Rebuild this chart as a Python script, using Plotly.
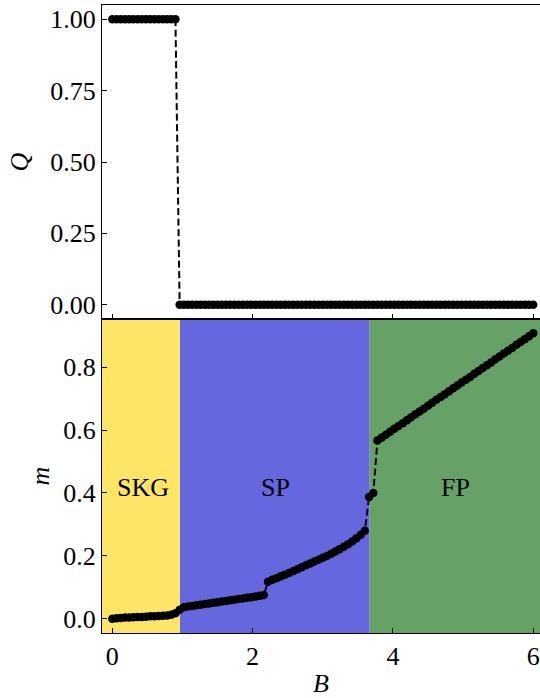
import plotly.graph_objects as go
from plotly.subplots import make_subplots

B = [0.00, 0.06, 0.12, 0.18, 0.24, 0.30, 0.36, 0.42, 0.48, 0.54,
     0.60, 0.66, 0.72, 0.78, 0.84, 0.90, 0.96, 1.02, 1.08, 1.14,
     1.20, 1.26, 1.32, 1.38, 1.44, 1.50, 1.56, 1.62, 1.68, 1.74,
     1.80, 1.86, 1.92, 1.98, 2.04, 2.10, 2.16, 2.22, 2.28, 2.34,
     2.40, 2.46, 2.52, 2.58, 2.64, 2.70, 2.76, 2.82, 2.88, 2.94,
     3.00, 3.06, 3.12, 3.18, 3.24, 3.30, 3.36, 3.42, 3.48, 3.54,
     3.60, 3.66, 3.72, 3.78, 3.84, 3.90, 3.96, 4.02, 4.08, 4.14,
     4.20, 4.26, 4.32, 4.38, 4.44, 4.50, 4.56, 4.62, 4.68, 4.74,
     4.80, 4.86, 4.92, 4.98, 5.04, 5.10, 5.16, 5.22, 5.28, 5.34,
     5.40, 5.46, 5.52, 5.58, 5.64, 5.70, 5.76, 5.82, 5.88, 5.94,
     6.00]

Q = [1] * 16 + [0] * 85

m = [0.000, 0.002, 0.003, 0.004, 0.004, 0.005, 0.006, 0.006, 0.007, 0.008,
     0.008, 0.009, 0.010, 0.011, 0.013, 0.018, 0.029, 0.037, 0.039, 0.041,
     0.043, 0.045, 0.047, 0.049, 0.051, 0.053, 0.055, 0.057, 0.059, 0.061,
     0.063, 0.065, 0.067, 0.069, 0.071, 0.073, 0.076, 0.118, 0.124, 0.129,
     0.135, 0.140, 0.146, 0.152, 0.158, 0.164, 0.170, 0.176, 0.182, 0.188,
     0.194, 0.200, 0.207, 0.214, 0.221, 0.229, 0.237, 0.246, 0.256, 0.267,
     0.280, 0.387, 0.400, 0.567, 0.576, 0.585, 0.595, 0.604, 0.613, 0.622,
     0.631, 0.641, 0.650, 0.659, 0.668, 0.677, 0.687, 0.696, 0.705, 0.714,
     0.723, 0.733, 0.742, 0.751, 0.760, 0.769, 0.779, 0.788, 0.797, 0.806,
     0.815, 0.825, 0.834, 0.843, 0.852, 0.861, 0.871, 0.880, 0.889, 0.898,
     0.908]

phase_names = ["SKG", "SP", "FP"]
phase_bounds = [-0.2, 0.965, 3.67, 6.2]
phase_colors = ["rgb(255,229,102)", "rgb(102,102,222)", "rgb(102,162,102)"]
phase_label_x = [0.44, 2.32, 4.89]
phase_label_y = 0.417

FONT = "Liberation Serif"
FS = 26

fig = make_subplots(rows=2, cols=1, shared_xaxes=True, vertical_spacing=0)

style = dict(mode="lines+markers", line=dict(color="black", width=2, dash="7px,3.5px"),
             marker=dict(color="black", size=8.5), showlegend=False, cliponaxis=False)
fig.add_trace(go.Scatter(x=B, y=Q, **style), row=1, col=1)
fig.add_trace(go.Scatter(x=B, y=m, **style), row=2, col=1)

for i, name in enumerate(phase_names):
    fig.add_shape(type="rect", xref="x2", yref="y2 domain",
                  x0=phase_bounds[i], x1=phase_bounds[i + 1], y0=0, y1=1,
                  fillcolor=phase_colors[i], line_width=0, layer="below")
    fig.add_annotation(x=phase_label_x[i], y=phase_label_y, xref="x2", yref="y2",
                       text=name, showarrow=False,
                       font=dict(family=FONT, size=FS, color="black"))

axis_common = dict(showline=True, linecolor="black", linewidth=1.3, ticks="inside",
                   ticklen=5, tickwidth=1, tickcolor="black", showgrid=False, zeroline=False,
                   automargin=False,
                   tickfont=dict(family=FONT, size=FS, color="black"))

fig.update_xaxes(range=[-0.147, 6.097], tickvals=[0, 2, 4, 6], mirror=True, **axis_common)
fig.update_xaxes(showticklabels=False, row=1, col=1)
fig.update_xaxes(title=dict(text="<i>B</i>", font=dict(family=FONT, size=FS, color="black"),
                            standoff=4), row=2, col=1)
fig.update_yaxes(**axis_common)
fig.update_yaxes(range=[-0.05, 1.05], tickvals=[0, 0.25, 0.5, 0.75, 1.0], tickformat=".2f",
                 title=dict(text="<i>Q</i>", font=dict(family=FONT, size=FS, color="black"),
                            standoff=14), row=1, col=1)
fig.update_yaxes(range=[-0.045, 0.953], tickvals=[0, 0.2, 0.4, 0.6, 0.8], tickformat=".1f",
                 title=dict(text="<i>m</i>", font=dict(family=FONT, size=FS, color="black"),
                            standoff=6), row=2, col=1)

fig.update_layout(width=540, height=698, margin=dict(l=102, r=0, t=5, b=65),
                  plot_bgcolor="white", paper_bgcolor="white")

fig.write_html("out.html", config={"displayModeBar": False},
               post_script="document.body.style.margin='0';document.body.style.padding='0';")
